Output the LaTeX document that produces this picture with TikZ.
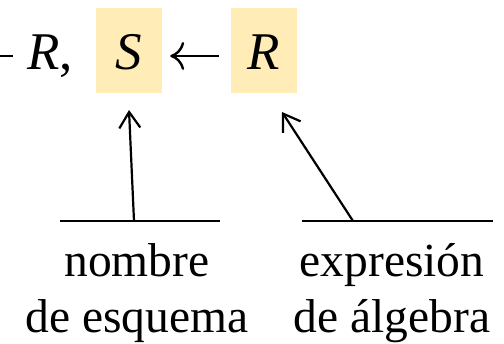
\documentclass[tikz,border=0pt]{standalone}
\usepackage{fontspec}
\setmainfont{Liberation Serif}
\usetikzlibrary{arrows.meta,calc}
\definecolor{boxfill}{RGB}{255,236,183}
\begin{document}
\begin{tikzpicture}[x=1pt,y=-1pt,
  mathbox/.style={fill=boxfill, anchor=base, inner sep=0pt, text height=62pt, text depth=23pt, minimum width=66pt, font=\fontsize{53}{60}\selectfont\itshape},
  mathtxt/.style={anchor=base west, inner sep=0pt, font=\fontsize{53}{60}\selectfont},
  label/.style={align=center, inner sep=0pt, anchor=base, font=\fontsize{47.5}{56}\selectfont},
  bar/.style={line width=2.6pt},
  openarr/.style={line width=2.2pt, -{Straight Barb[length=16pt,width=21pt,line width=2.2pt]}},
  mathsym/.style={line width=2.4pt, -{Computer Modern Rightarrow[length=14pt,width=28pt,line width=2.4pt]}}]
\useasboundingbox (0,0) rectangle (504,344);
\clip (0,0) rectangle (504,344);
% formula
\coordinate (dashL) at (-10,56);
\coordinate (dashR) at (13,56);
\draw[line width=2.4pt] (dashL) -- (dashR);
\node[mathtxt] (Rc) at (27,70) {\textit{R},};
\node[mathbox] (S) at (129,70) {S};
\node[mathbox] (R) at (264,70) {R};
\draw[mathsym] ($(R.west)+(-12,5.5)$) -- ($(S.east)+(8,5.5)$);
% underlines
\coordinate (l1a) at (60,221);
\coordinate (l1b) at (220,221);
\coordinate (l2a) at (302,221);
\coordinate (l2b) at (493,221);
\draw[bar] (l1a) -- (l1b);
\draw[bar] (l2a) -- (l2b);
% pointers
\coordinate (p1) at (134,221);
\coordinate (t1) at (129,110);
\coordinate (p2) at (353,221);
\coordinate (t2) at (282,112);
\draw[openarr] (p1) -- (t1);
\draw[openarr] (p2) -- (t2);
% labels
\node[label] (n1) at (137,333) {nombre\\de esquema};
\node[label] (n2) at (392,333) {expresión\\de álgebra};
\end{tikzpicture}
\end{document}
